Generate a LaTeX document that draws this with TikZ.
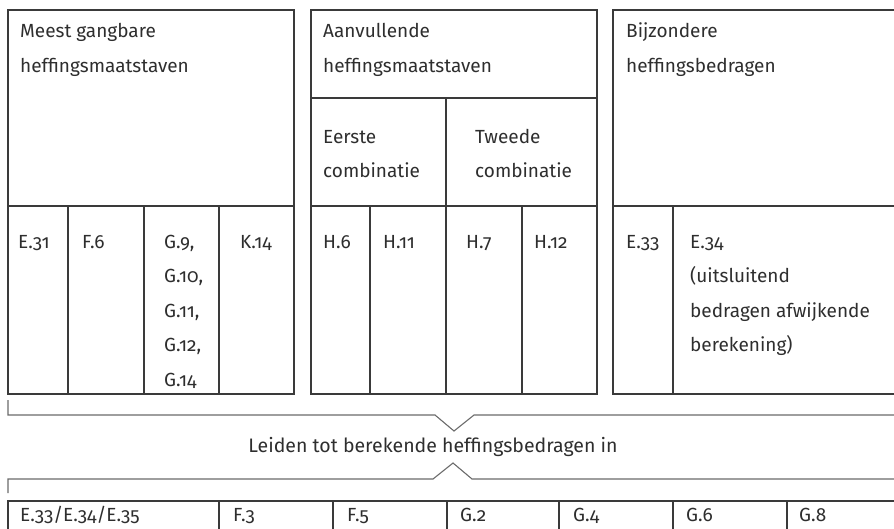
\documentclass[tikz,border=0pt]{standalone}
\usepackage{fontspec}
\setmainfont{Fira Sans}[Numbers=OldStyle]
\definecolor{linec}{HTML}{3A3A3A}
\definecolor{bracketc}{HTML}{6A6A6A}
\definecolor{textc}{HTML}{2E2E2E}
\begin{document}
\begin{tikzpicture}[x=1pt,y=-1pt,
  boxline/.style={draw=linec,line width=1.3pt},
  bracketline/.style={draw=bracketc,line width=1.1pt},
  lbl/.style={anchor=base west,inner sep=0pt,text=textc,font=\fontsize{19}{22}\selectfont},
  midlbl/.style={anchor=base,inner sep=0pt,text=textc,font=\fontsize{19.5}{22}\selectfont}]
\useasboundingbox (0,0) rectangle (894,528);
\clip (0,0) rectangle (894,528);
% box 1
\draw[boxline] (8,10) rectangle (294,394);
\draw[boxline] (8,206) -- (294,206);
\draw[boxline] (68,206) -- (68,394) (144,206) -- (144,394) (219,206) -- (219,394);
% box 2
\draw[boxline] (311,10) rectangle (597,394);
\draw[boxline] (311,98) -- (597,98);
\draw[boxline] (446,98) -- (446,394);
\draw[boxline] (311,206) -- (597,206);
\draw[boxline] (370,206) -- (370,394) (522,206) -- (522,394);
% box 3
\draw[boxline] (613,10) rectangle (910,394);
\draw[boxline] (613,206) -- (910,206);
\draw[boxline] (673,206) -- (673,394);
% brackets
\coordinate (ta) at (8,400);
\coordinate (tb) at (8,415);
\coordinate (tc) at (435,415);
\coordinate (tv) at (454,431);
\coordinate (td) at (474,415);
\coordinate (te) at (910,415);
\draw[bracketline] (ta) -- (tb) -- (tc) -- (tv) -- (td) -- (te);
\coordinate (ba) at (8,493);
\coordinate (bb) at (8,479);
\coordinate (bc) at (433,479);
\coordinate (bv) at (453,463);
\coordinate (bd) at (472,479);
\coordinate (be) at (910,479);
\draw[bracketline] (ba) -- (bb) -- (bc) -- (bv) -- (bd) -- (be);
% bottom row
\draw[boxline] (8,540) -- (8,501) -- (910,501);
\foreach \xx in {219,333,447,559,673,787} \draw[boxline] (\xx,501) -- (\xx,540);
% header texts
\node[lbl] (h1a) at (20,37) {Meest gangbare};
\node[lbl] (h1b) at (20,72) {heffingsmaatstaven};
\node[lbl] (h2a) at (323,37) {Aanvullende};
\node[lbl] (h2b) at (323,72) {heffingsmaatstaven};
\node[lbl] (c1a) at (323,143) {Eerste};
\node[lbl] (c1b) at (323,177) {combinatie};
\node[lbl] (c2a) at (475,143) {Tweede};
\node[lbl] (c2b) at (475,177) {combinatie};
\node[lbl] (h3a) at (626,37) {Bijzondere};
\node[lbl] (h3b) at (626,72) {heffingsbedragen};
% column texts
\node[lbl] (e31) at (18,248) {E.31};
\node[lbl] (f6) at (82,248) {F.6};
\node[lbl] (g9) at (164,248) {G.9,};
\node[lbl] (g10) at (164,282) {G.10,};
\node[lbl] (g11) at (164,317) {G.11,};
\node[lbl] (g12) at (164,351) {G.12,};
\node[lbl] (g14) at (164,386) {G.14};
\node[lbl] (k14) at (240,248) {K.14};
\node[lbl] (h6) at (323,248) {H.6};
\node[lbl] (h11) at (383,248) {H.11};
\node[lbl] (h7) at (466,248) {H.7};
\node[lbl] (h12) at (534,248) {H.12};
\node[lbl] (e33) at (626,248) {E.33};
\node[lbl] (e34a) at (690,248) {E.34};
\node[lbl] (e34b) at (690,282) {(uitsluitend};
\node[lbl] (e34c) at (690,317) {bedragen afwijkende};
\node[lbl] (e34d) at (690,351) {berekening)};
% middle label
\node[midlbl] (lead) at (433,452) {Leiden tot berekende heffingsbedragen in};
% bottom texts
\node[lbl] (r1) at (20,521) {E.33/E.34/E.35};
\node[lbl] (r2) at (233,521) {F.3};
\node[lbl] (r3) at (347,521) {F.5};
\node[lbl] (r4) at (460,521) {G.2};
\node[lbl] (r5) at (573,521) {G.4};
\node[lbl] (r6) at (686,521) {G.6};
\node[lbl] (r7) at (799,521) {G.8};
\end{tikzpicture}
\end{document}
